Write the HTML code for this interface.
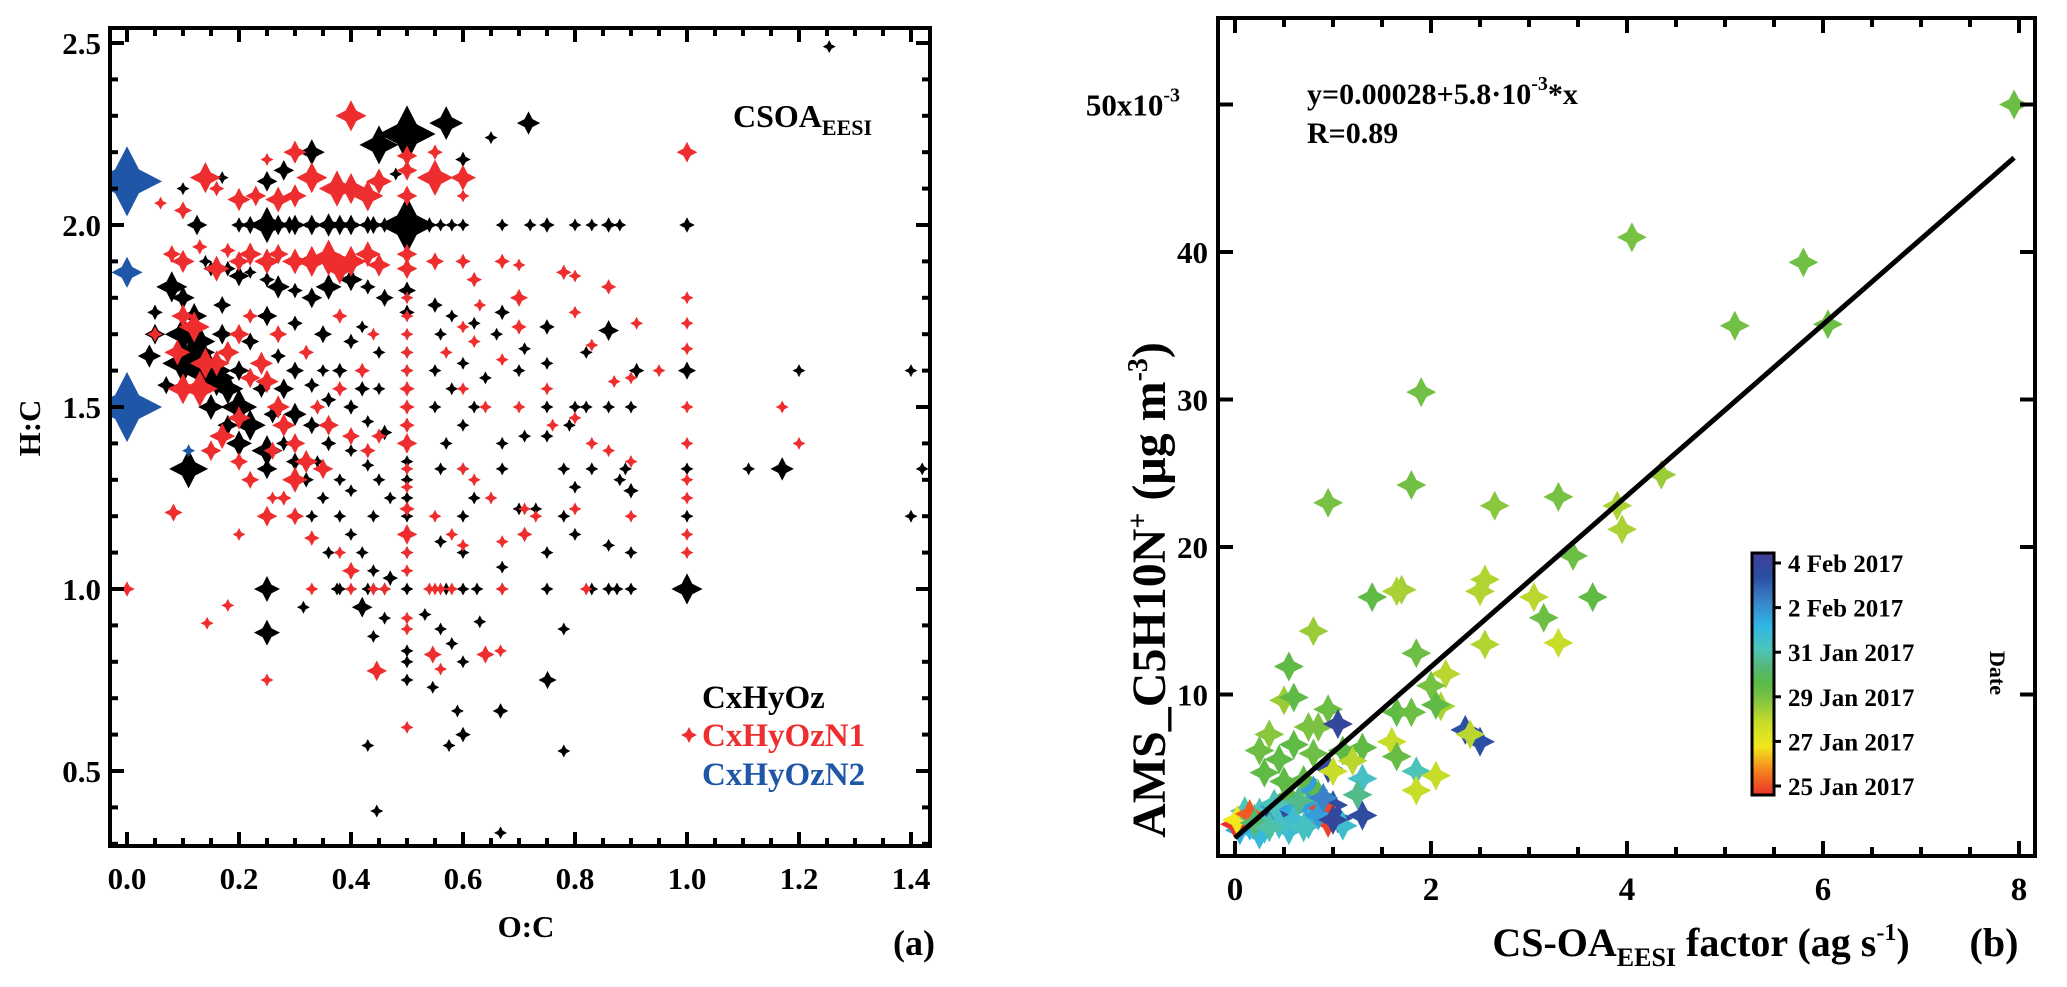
<!DOCTYPE html>
<html><head><meta charset="utf-8"><title>CSOA EESI scatter panels</title>
<style>
html,body{margin:0;padding:0;background:#fff;}
svg{display:block;font-family:"Liberation Serif",serif;font-weight:bold;}
</style></head>
<body>
<svg id="fig" width="2067" height="987" viewBox="0 0 2067 987" xmlns="http://www.w3.org/2000/svg">
  <g id="panelA"></g>
  <g id="panelB"></g>
</svg>
<script>
// ---------- Panel (a) data: [O:C, H:C, marker size] ----------
const blackPts = [
[0.125,2.0,8],[0.2,2.0,6],[0.22,2.0,7],[0.25,2.0,14],[0.27,2.0,8],[0.29,2.0,7],[0.3,2.0,8],[0.33,2.0,8],[0.36,2.0,9],[0.38,2.0,8],[0.4,2.0,8],[0.43,2.0,7],[0.44,2.0,7],[0.46,2.0,6],[0.5,2.0,22],[0.54,2.0,6],[0.56,2.0,5],[0.58,2.0,5],[0.6,2.0,5],[0.67,2.0,5],[0.72,2.0,5],[0.75,2.0,6],[0.8,2.0,5],[0.83,2.0,5],[0.86,2.0,6],[0.88,2.0,5],[1.0,2.0,6],
[0.25,2.12,8],[0.28,2.15,8],[0.33,2.2,10],[0.45,2.22,15],[0.5,2.25,22],[0.57,2.28,13],[0.717,2.28,9],[1.254,2.49,5],[0.6,2.18,6],[0.65,2.24,4],[0.17,2.13,4],[0.48,2.14,5],[0.1,2.1,4],
[0.08,1.83,12],[0.1,1.8,9],[0.12,1.75,10],[0.1,1.7,14],[0.12,1.65,16],[0.14,1.6,20],[0.1,1.62,16],[0.16,1.58,14],[0.18,1.55,12],[0.2,1.5,14],[0.22,1.45,12],[0.2,1.4,10],[0.25,1.38,12],[0.25,1.33,8],[0.11,1.33,15],[0.05,1.7,8],[0.04,1.64,9],[0.05,1.76,6],[0.07,1.56,7],
[0.15,1.88,6],[0.14,1.9,5],[0.18,1.88,6],[0.2,1.86,8],[0.22,1.87,5],[0.25,1.85,6],[0.27,1.83,9],[0.3,1.82,6],[0.33,1.8,8],[0.36,1.83,10],[0.4,1.85,9],[0.43,1.83,6],[0.46,1.8,7],[0.5,1.82,7],[0.5,1.76,6],[0.55,1.78,6],[0.58,1.75,5],[0.62,1.73,5],[0.67,1.76,6],[0.75,1.72,6],[0.71,1.66,4],[0.82,1.65,5],[0.86,1.71,8],
[0.25,1.75,8],[0.3,1.73,6],[0.35,1.7,7],[0.4,1.68,6],[0.42,1.72,5],[0.45,1.65,5],[0.5,1.65,5],[0.5,1.6,5],[0.5,1.55,5],[0.55,1.6,5],[0.6,1.62,4],[0.64,1.58,5],[0.22,1.68,7],[0.27,1.64,6],[0.3,1.6,7],[0.33,1.56,6],[0.36,1.52,6],[0.4,1.5,6],[0.43,1.46,5],[0.46,1.43,6],
[0.5,1.4,5],[0.5,1.35,5],[0.5,1.3,5],[0.5,1.25,5],[0.5,1.2,5],[0.5,1.15,5],[0.5,1.1,5],[0.5,1.0,5],[0.5,0.83,4],[0.5,0.8,4],[0.5,0.75,4],
[0.28,1.55,8],[0.3,1.48,9],[0.33,1.45,7],[0.36,1.4,6],[0.4,1.38,5],[0.43,1.34,5],[0.45,1.3,5],[0.47,1.25,5],[0.3,1.35,7],[0.32,1.3,6],[0.35,1.25,5],[0.38,1.2,5],[0.4,1.15,5],[0.42,1.1,5],[0.44,1.05,5],[0.47,1.03,6],[0.33,1.2,5],[0.36,1.1,5],[0.38,1.0,5],
[0.25,1.0,10],[0.25,0.88,10],[0.315,0.95,4],[0.42,0.95,8],[0.46,0.92,5],[0.44,0.87,4],[0.546,0.73,5],[0.532,0.93,4],[0.56,0.89,4],[0.58,0.85,4],[0.6,0.8,4],[0.63,0.91,4],[0.667,0.665,6],[0.59,0.665,4],[0.6,0.6,6],[0.575,0.57,4],[0.43,0.57,4],[0.78,0.555,4],[0.446,0.39,4],[0.667,0.33,4],[0.751,0.75,7],[0.78,0.89,4],
[0.375,1.0,5],[0.43,1.0,5],[0.44,1.0,5],[0.46,1.0,5],[0.57,1.0,5],[0.6,1.0,5],[0.625,1.0,5],[0.67,1.0,5],[0.75,1.0,5],[0.83,1.0,5],[0.86,1.0,5],[0.875,1.0,5],[0.9,1.0,5],[1.0,1.0,12],
[0.67,1.06,5],[0.75,1.1,5],[0.86,1.12,5],[0.9,1.1,5],[0.8,1.15,5],[0.6,1.1,5],[0.56,1.13,5],[0.6,1.2,5],[0.62,1.25,5],[0.7,1.22,5],[0.73,1.22,5],[0.78,1.2,5],[0.8,1.28,5],[0.88,1.3,5],[0.9,1.27,6],[1.0,1.2,4],[1.0,1.33,5],
[1.11,1.33,5],[1.17,1.33,9],[0.78,1.33,5],[0.83,1.33,5],[0.89,1.33,5],[0.67,1.33,5],[0.6,1.33,5],[0.56,1.33,5],[0.71,1.42,5],[0.75,1.42,5],[0.79,1.45,5],[0.67,1.4,5],[0.82,1.5,5],[0.86,1.5,5],[0.9,1.5,5],[0.8,1.5,5],[0.75,1.5,5],
[1.0,1.6,7],[1.2,1.6,4],[1.4,1.6,4],[0.91,1.6,6],[1.42,1.33,4],[1.4,1.2,4],[0.58,1.55,5],[0.62,1.5,5],[0.7,1.6,5],[0.75,1.62,5],[0.66,1.7,5],[0.56,1.7,5],[0.6,1.45,5],[0.55,1.5,5],[0.57,1.4,5],
[0.17,1.7,8],[0.15,1.5,10],[0.13,1.68,12],[0.18,1.45,8],[0.24,1.55,7],[0.26,1.48,7],[0.2,1.6,8],[0.17,1.78,7],[0.38,1.6,6],[0.42,1.55,6],[0.35,1.6,5],[0.45,1.55,5],[0.28,1.4,6],[0.34,1.35,5],[0.38,1.3,5],[0.4,1.27,5],[0.44,1.2,5]
];
const redPts = [
[0.4,2.3,12],[0.14,2.13,12],[0.2,2.07,9],[0.16,2.1,6],[0.23,2.08,8],[0.27,2.07,10],[0.3,2.08,9],[0.33,2.13,12],[0.375,2.1,14],[0.4,2.1,12],[0.43,2.08,12],[0.45,2.12,10],[0.5,2.15,8],[0.5,2.08,8],[0.55,2.13,14],[0.6,2.13,10],[0.6,2.08,5],[0.25,2.18,5],[0.3,2.2,9],[0.55,2.2,6],[0.06,2.06,5],[0.1,2.04,7],[1.0,2.2,8],[0.5,2.19,8],
[0.08,1.92,7],[0.1,1.9,9],[0.13,1.94,6],[0.16,1.88,10],[0.18,1.93,6],[0.2,1.9,8],[0.22,1.92,9],[0.25,1.9,10],[0.27,1.92,8],[0.3,1.9,10],[0.33,1.9,12],[0.36,1.91,14],[0.38,1.88,12],[0.4,1.9,12],[0.43,1.92,10],[0.45,1.89,9],[0.5,1.92,8],[0.5,1.88,8],[0.55,1.9,7],[0.6,1.9,6],[0.62,1.85,6],[0.63,1.78,5],[0.67,1.9,6],[0.7,1.89,5],[0.7,1.8,7],[0.7,1.72,6],[0.78,1.87,6],[0.8,1.86,4],[0.86,1.83,6],[0.8,1.76,4],[0.91,1.73,4],[0.83,1.67,4],[0.87,1.57,4],[0.95,1.6,4],[0.9,1.58,5],
[1.0,1.8,4],[1.0,1.73,4],[1.0,1.66,4],[1.0,1.5,4],[1.0,1.4,4],[1.0,1.3,4],[1.0,1.25,4],[1.0,1.15,4],[1.0,1.1,5],[1.17,1.5,4],[1.2,1.4,4],
[0.05,1.7,6],[0.1,1.75,9],[0.12,1.72,12],[0.09,1.65,10],[0.13,1.55,14],[0.1,1.55,12],[0.16,1.62,10],[0.18,1.65,9],[0.2,1.7,8],[0.22,1.75,6],[0.24,1.62,9],[0.25,1.57,9],[0.27,1.5,9],[0.28,1.45,9],[0.3,1.4,8],[0.32,1.35,9],[0.35,1.33,8],[0.2,1.35,7],[0.2,1.47,9],[0.17,1.42,10],[0.15,1.38,8],[0.22,1.3,7],[0.3,1.3,10],[0.36,1.45,8],[0.4,1.42,7],[0.43,1.38,6],[0.45,1.42,6],
[0.5,1.4,8],[0.5,1.45,6],[0.5,1.5,6],[0.5,1.55,6],[0.5,1.6,5],[0.5,1.65,5],[0.5,1.7,5],[0.5,1.75,5],[0.5,1.8,5],[0.5,1.33,5],[0.5,1.28,5],[0.5,1.22,6],[0.5,1.15,8],[0.5,1.1,5],[0.5,1.05,5],[0.5,0.92,5],[0.5,0.89,5],[0.5,0.62,5],
[0.46,1.0,5],[0.4,1.05,7],[0.38,1.1,5],[0.33,1.14,6],[0.3,1.2,7],[0.28,1.25,6],[0.26,1.25,5],[0.25,1.2,8],[0.2,1.15,5],[0.083,1.21,7],[0.0,1.0,6],[0.143,0.906,5],[0.18,0.955,5],[0.25,0.75,5],[0.446,0.775,8],[0.546,0.82,7],[0.64,0.82,7],[0.667,0.83,5],[0.56,0.78,5],
[0.33,1.0,5],[0.4,1.0,5],[0.44,1.0,5],[0.54,1.0,5],[0.55,1.0,5],[0.56,1.0,5],[0.58,1.0,5],[0.67,1.0,5],[0.82,1.0,5],
[0.6,1.33,5],[0.62,1.3,5],[0.65,1.25,5],[0.71,1.22,5],[0.73,1.2,5],[0.76,1.45,5],[0.8,1.47,5],[0.83,1.4,5],[0.86,1.38,5],[0.9,1.35,5],[0.9,1.2,5],[0.75,1.55,5],[0.7,1.5,5],[0.64,1.5,5],[0.6,1.55,5],[0.67,1.63,5],[0.62,1.68,5],[0.6,1.72,5],[0.57,1.65,5],[0.8,1.22,5],[0.67,1.13,5],[0.71,1.15,6],[0.55,1.2,5],[0.58,1.15,5],[0.6,1.12,5],
[0.14,1.62,12],[0.22,1.58,8],[0.26,1.38,7],[0.34,1.5,6],[0.38,1.55,6],[0.42,1.6,6],[0.44,1.7,5],[0.38,1.75,6],[0.32,1.65,6],[0.27,1.7,7]
];
const bluePts = [[0.0,2.12,27],[0.0,1.87,12],[0.0,1.5,27],[0.11,1.38,4]];
const xTicksA = [0.0,0.2,0.4,0.6,0.8,1.0,1.2,1.4];
const xTickLabelsA = ["0.0","0.2","0.4","0.6","0.8","1.0","1.2","1.4"];
const yTicksA = [0.5,1.0,1.5,2.0,2.5];
const yTickLabelsA = ["0.5","1.0","1.5","2.0","2.5"];

// ---------- Panel (b) data ----------
const csoaX = [7.95,4.05,5.8,5.1,6.05,1.9,1.8,4.35,0.95,2.65,3.3,3.9,3.95,3.45,1.7,1.65,2.55,2.5,1.4,3.65,3.05,3.15,0.8,2.55,3.3,1.85,0.55,2.15,2.0,0.5,0.6,0.95,2.1,2.05,1.65,1.8,0.75,0.85,1.05,2.35,2.5,2.4,0.35,1.6,1.65,1.3,0.25,0.6,0.45,0.8,1.1,0.95,1.2,1.85,2.05,1.85,0.5,0.3,1.0,0.7,1.3,0.55,0.8,1.25,0.85,1.0,1.3,0.25,0.1,0.35,0.5,0.6,0.75,0.9,0.55,0.75,0.3,0.15,0.05,0.0,0.02,0.2,0.4,1.05,0.95,0.6,0.45,0.85,1.1,0.7,0.25,1.0,0.65,0.4,0.15,0.9,0.2,0.35];
const amsY = [50,41,39.3,35,35.1,30.5,24.2,24.9,23,22.8,23.4,22.8,21.2,19.4,17.1,17,17.8,17,16.6,16.6,16.6,15.2,14.3,13.4,13.5,12.8,11.9,11.4,10.6,9.6,9.8,9,9.2,9.3,8.8,8.8,7.8,7.8,8,7.6,6.8,7.3,7.3,6.8,5.8,6.4,6.2,6.6,5.6,6,6.2,5,5.5,4.8,4.5,3.5,4.1,4.7,4.8,4.2,4.3,3.1,3.5,3.2,3.2,2.5,1.8,2,2.1,1.6,1.8,2.2,2.4,2.3,0.8,1.2,0.9,1.1,0.8,1.2,1.5,1.6,2.4,1.6,1.3,1.5,1.2,1.8,1.1,1.0,0.5,1.5,2.8,2.6,1.9,3.0,1.3,1.0];
const dateDay = [4.3,4.1,4.2,4.2,4.3,4.2,4.2,3.6,4.1,3.8,4.1,3.4,3.4,4.3,3.5,3.4,3.3,3.3,4.5,4.5,3.2,4.3,3.6,3.3,3.0,4.3,4.5,3.2,4.1,3.6,4.5,4.3,3.4,4.5,4.5,4.3,4.0,4.0,9.5,9.0,9.0,3.2,3.8,3.0,4.4,4.5,4.3,4.5,4.5,4.3,4.5,9.5,3.2,6.0,3.0,3.0,4.5,4.5,3.0,4.5,6.3,4.5,7.5,5.5,4.5,9.2,9.2,6.0,6.0,9.5,9.2,7.2,7.4,0.3,6.5,6.5,6.5,7.0,7.2,0.0,2.0,6.0,7.5,9.3,0.2,6.5,6.3,7.5,6.5,6.2,6.8,9.5,5.5,6.0,0.5,8.0,5.2,5.8];
const xTicksB = [0,2,4,6,8];
const xTickLabelsB = ["0","2","4","6","8"];
const yTicksB = [10,20,30,40,50];
const yTickLabelsB = ["10","20","30","40","50x10"];
const fitIntercept = 0.28;
const fitSlope = 5.8;
const colorbarLabels = ["4 Feb 2017","2 Feb 2017","31 Jan 2017","29 Jan 2017","27 Jan 2017","25 Jan 2017"];
const colorbarDays = [10,8,6,4,2,0];

const NS = "http://www.w3.org/2000/svg";
function mk(parent, tag, attrs, text){
  const e = document.createElementNS(NS, tag);
  for (const k in attrs) e.setAttribute(k, attrs[k]);
  if (text !== undefined) e.textContent = text;
  parent.appendChild(e);
  return e;
}
function starPath(cx, cy, s){
  const a = s*0.32;
  return `M${cx},${cy-s} Q${cx+a*0.6},${cy-a*0.6} ${cx+s},${cy} Q${cx+a*0.6},${cy+a*0.6} ${cx},${cy+s} Q${cx-a*0.6},${cy+a*0.6} ${cx-s},${cy} Q${cx-a*0.6},${cy-a*0.6} ${cx},${cy-s} Z`;
}
function starPoly(cx, cy, s){
  const a = s*0.34;
  return `M${cx},${cy-s} L${cx+a},${cy-a} L${cx+s},${cy} L${cx+a},${cy+a} L${cx},${cy+s} L${cx-a},${cy+a} L${cx-s},${cy} L${cx-a},${cy-a} Z`;
}
const sz = s => Math.max(6.5, s*1.3);

// ---------- Panel (a) ----------
const A = document.getElementById('panelA');
const AL=110, AR=930, AT=28, AB=846;
const xA = v => 127 + 560*v;
const yA = v => 43 + (2.5 - v)*364;

const clipA = mk(A,'clipPath',{id:'clipA'});
mk(clipA,'rect',{x:AL,y:AT,width:AR-AL,height:AB-AT});
const ptsA = mk(A,'g',{'clip-path':'url(#clipA)'});


function drawSeries(arr, color, name){
  const g = mk(ptsA,'g',{fill:color});
  
  
  arr.forEach(p=>{
    const e = mk(g,'path',{d:starPoly(xA(p[0]), yA(p[1]), sz(p[2]))});
    
    
  });
}
drawSeries(blackPts,'#000000','cxhyoz-series');
drawSeries(redPts,'#ee2e2e','cxhyozn1-series');
drawSeries(bluePts,'#1f56a8','cxhyozn2-series');

const frA = mk(A,'rect',{x:AL,y:AT,width:AR-AL,height:AB-AT,fill:'none',stroke:'#000','stroke-width':4});


const tkA = mk(A,'g',{stroke:'#000','stroke-width':4});
for (let i=0;i<=28;i++){
  const v = i*0.05; const x = xA(v); const major = (i%4===0); const L = major?14:8;
  if (x<AL||x>AR) continue;
  mk(tkA,'line',{x1:x,y1:AB,x2:x,y2:AB-L});
  mk(tkA,'line',{x1:x,y1:AT,x2:x,y2:AT+L});
}
for (let i=3;i<=25;i++){
  const v = i*0.1; const y = yA(v); const major = (i%5===0); const L = major?14:8;
  if (y<AT||y>AB) continue;
  mk(tkA,'line',{x1:AL,y1:y,x2:AL+L,y2:y});
  mk(tkA,'line',{x1:AR,y1:y,x2:AR-L,y2:y});
}
xTicksA.forEach((v,i)=>{
  const t = mk(A,'text',{x:xA(v),y:889,'font-size':31,'text-anchor':'middle'},xTickLabelsA[i]);
  
  
});
yTicksA.forEach((v,i)=>{
  const t = mk(A,'text',{x:101,y:yA(v)+11,'font-size':31,'text-anchor':'end'},yTickLabelsA[i]);
  
  
});
let t;
t = mk(A,'text',{x:526,y:937,'font-size':31,'text-anchor':'middle'},'O:C');
 
t = mk(A,'text',{x:0,y:0,'font-size':31,'text-anchor':'middle',transform:'translate(40,428) rotate(-90)'},'H:C');
 
t = mk(A,'text',{x:914,y:955,'font-size':36,'text-anchor':'middle'},'(a)');
 
t = mk(A,'text',{x:733,y:127,'font-size':32});
 
mk(t,'tspan',{},'CSOA');
mk(t,'tspan',{'font-size':22,dy:8},'EESI');
t = mk(A,'text',{x:702,y:708,'font-size':33,fill:'#000'},'CxHyOz');
 
const lm = mk(A,'path',{d:starPoly(689,735,8),fill:'#ee2e2e'});
 
t = mk(A,'text',{x:702,y:746,'font-size':33,fill:'#ee2e2e'},'CxHyOzN1');
 
t = mk(A,'text',{x:702,y:785,'font-size':33,fill:'#1f56a8'},'CxHyOzN2');
 

// ---------- Panel (b) ----------
const B = document.getElementById('panelB');
const BL=1218, BR=2035, BT=18, BB=856;
const xB = v => 1235 + 98*v;
const yB = v => 842 - 14.75*v;
const cStops = [[0,[232,50,42]],[1,[245,130,31]],[2,[242,232,28]],[3,[200,220,42]],[4,[124,194,66]],[4.6,[91,185,71]],[5.3,[85,184,120]],[6,[78,196,184]],[7,[47,182,230]],[8,[58,131,201]],[9,[42,79,163]],[10,[64,62,150]]];
function dayColor(d){
  for (let i=0;i<cStops.length-1;i++){
    const [d0,c0]=cStops[i],[d1,c1]=cStops[i+1];
    if (d<=d1){ const f=Math.max(0,(d-d0)/(d1-d0)); return 'rgb('+c0.map((c,k)=>Math.round(c+(c1[k]-c)*f)).join(',')+')'; }
  }
  return 'rgb(64,62,150)';
}
const clipB = mk(B,'clipPath',{id:'clipB'});
mk(clipB,'rect',{x:BL,y:BT,width:BR-BL,height:BB-BT});
const ptsB = mk(B,'g',{'clip-path':'url(#clipB)'});


csoaX.forEach((x,i)=>{
  const e = mk(ptsB,'path',{d:starPoly(xB(x), yB(amsY[i]), 15), fill:dayColor(dateDay[i])});
  
  
});
const fit = mk(B,'line',{x1:xB(0),y1:yB(fitIntercept),x2:xB(7.95),y2:yB(fitIntercept+fitSlope*7.95),stroke:'#000','stroke-width':5});
 

const frB = mk(B,'rect',{x:BL,y:BT,width:BR-BL,height:BB-BT,fill:'none',stroke:'#000','stroke-width':4});
 
const tkB = mk(B,'g',{stroke:'#000','stroke-width':4});
for (let i=0;i<=16;i++){
  const v=i*0.5; const x=xB(v); const major=(i%4===0); const L=major?15:9;
  mk(tkB,'line',{x1:x,y1:BB,x2:x,y2:BB-L});
  mk(tkB,'line',{x1:x,y1:BT,x2:x,y2:BT+L});
}
yTicksB.forEach(v=>{
  const y=yB(v);
  mk(tkB,'line',{x1:BL,y1:y,x2:BL+15,y2:y});
  mk(tkB,'line',{x1:BR,y1:y,x2:BR-15,y2:y});
});
xTicksB.forEach((v,i)=>{
  const tt = mk(B,'text',{x:xB(v),y:900,'font-size':33,'text-anchor':'middle'},xTickLabelsB[i]);
   
});
yTicksB.forEach((v,i)=>{
  const tt = mk(B,'text',{x:1208,y:yB(v)+11,'font-size':31,'text-anchor':'end'},yTickLabelsB[i]);
  if (i===yTicksB.length-1){ tt.setAttribute('x',1180); mk(tt,'tspan',{'font-size':20,dy:-14},'-3'); }
   
});
t = mk(B,'text',{x:1307,y:104,'font-size':30});
 
mk(t,'tspan',{},'y=0.00028+5.8·10');
mk(t,'tspan',{'font-size':20,dy:-14},'-3');
mk(t,'tspan',{dy:14},'*x');
t = mk(B,'text',{x:1307,y:143,'font-size':30},'R=0.89');
 
t = mk(B,'text',{x:0,y:0,'font-size':48,'text-anchor':'middle',transform:'translate(1165,590) rotate(-90)'});
 
mk(t,'tspan',{},'AMS_C5H10N');
mk(t,'tspan',{'font-size':28,dy:-18},'+');
mk(t,'tspan',{dy:18},' (μg m');
mk(t,'tspan',{'font-size':28,dy:-18},'-3');
mk(t,'tspan',{dy:18},')');
t = mk(B,'text',{x:1701,y:956,'font-size':40,'text-anchor':'middle'});
 
mk(t,'tspan',{},'CS-OA');
mk(t,'tspan',{'font-size':26,dy:10},'EESI');
mk(t,'tspan',{dy:-10},' factor (ag s');
mk(t,'tspan',{'font-size':24,dy:-16},'-1');
mk(t,'tspan',{dy:16},')');
t = mk(B,'text',{x:1994,y:956,'font-size':40,'text-anchor':'middle'},'(b)');
 
const defs = mk(B,'defs',{});
const grad = mk(defs,'linearGradient',{id:'cbGrad',x1:0,y1:1,x2:0,y2:0});
cStops.forEach(s=>mk(grad,'stop',{offset:(s[0]/10),'stop-color':'rgb('+s[1].join(',')+')'}));
const cbTop=553, cbBot=795;
const cb = mk(B,'rect',{x:1752,y:cbTop,width:22,height:cbBot-cbTop,fill:'url(#cbGrad)',stroke:'#000','stroke-width':3});
 
const cbY = d => 786 - (786-563)*d/10;
colorbarDays.forEach((d,i)=>{
  mk(B,'line',{x1:1774,y1:cbY(d),x2:1781,y2:cbY(d),stroke:'#000','stroke-width':3});
  const tt = mk(B,'text',{x:1788,y:cbY(d)+9,'font-size':25},colorbarLabels[i]);
   
});
t = mk(B,'text',{x:0,y:0,'font-size':22,'text-anchor':'middle',transform:'translate(1990,673) rotate(90)'},'Date');
 
</script>
</body></html>
